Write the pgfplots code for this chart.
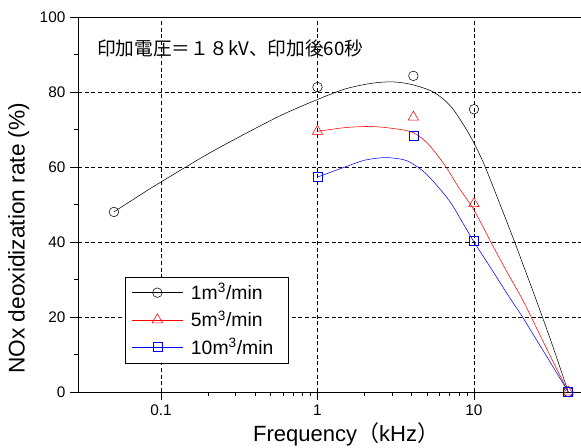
\documentclass[border=0pt]{standalone}
\usepackage{fontspec}
\setmainfont{Liberation Sans}
\newfontfamily\jp{Noto Sans CJK JP}
\usepackage{pgfplots}
\pgfplotsset{compat=1.18}
\begin{document}
\begin{tikzpicture}
\begin{axis}[
  name=a,
  scale only axis,
  width=377pt, height=281pt,
  xmode=log,
  xmin=0.0295, xmax=48.3,
  ymin=0, ymax=100,
  axis x line*=box, axis y line*=left,
  xtick={0.1,1,10}, xticklabels={0.1,1,10},
  xtick pos=left,
  ytick={0,20,40,60,80,100},
  minor ytick={10,30,50,70,90},
  tick align=outside,
  major tick length=6pt, minor tick length=3pt,
  grid=major,
  major grid style={black, dash pattern=on 3pt off 2pt, thin},
  axis line style={black, thin},
  tick style={black, thin},
  /pgf/number format/assume math mode=true,
  ticklabel style={font=\fontsize{11.5}{13}\selectfont},
  xlabel={Frequency{\jp（}kHz{\jp）}},
  ylabel={NOx deoxidization rate (\%)},
  xlabel style={font=\fontsize{16.5}{19}\selectfont, at={(axis description cs:0.533,-0.132)}, anchor=base},
  ylabel style={font=\fontsize{17}{20}\selectfont, at={(axis description cs:-0.118,0.41)}, anchor=center},
  legend style={at={(0.093,0.077)}, anchor=south west, draw=black, thin,
    font=\fontsize{14.5}{17}\selectfont, row sep=2.5pt, inner xsep=5pt, inner ysep=3pt,
    nodes={inner xsep=6pt}},
  legend cell align=left,
  legend image code/.code={
    \draw[mark repeat=2,mark phase=2,#1] plot coordinates {(0pt,0pt) (19pt,0pt) (38pt,0pt)};
  },
]
% fitted curves
\addplot[black, thin, smooth, tension=0.5, forget plot] coordinates {
 (0.05,48) (0.08,53.5) (0.12,58) (0.2,63.5) (0.35,69) (0.6,74) (1,78) (1.5,80.8)
 (2.2,82.3) (3,82.7) (4,82) (5.5,80) (7,76.5) (8.5,71.5) (10,66.4) (11.8,60)
 (15,49) (18,40.5) (21,33) (25,24.5) (32,12) (40,0)};
\addplot[red, thin, smooth, tension=0.5, forget plot] coordinates {
 (1,69.5) (1.5,70.5) (2.2,70.8) (3,70.3) (4,69.3) (5,66.5) (6.5,60.5) (8,54.5)
 (10,48.5) (13,39.5) (16,32.5) (20.5,24.5) (25,17.2) (32,8.1) (40,0)};
\addplot[blue, thin, smooth, tension=0.5, forget plot] coordinates {
 (1,57.3) (1.5,60) (2,61.8) (2.7,62.5) (3.5,62) (4,61) (5,58) (6.9,51.2)
 (8.5,45) (10,40) (12,34.9) (14.5,29.5) (17.3,24.5) (20.2,20.3) (25,14) (32,6.7) (40,0)};
% measured points
\addplot[black, only marks, mark=o, mark size=3.6pt, forget plot] coordinates {
 (0.05,48) (1,81.3) (4.1,84.3) (10,75.4) (40,0)};
\addplot[red, only marks, mark=triangle, mark size=4.5pt, forget plot] coordinates {
 (1,69.5) (4.1,73.3) (10,50.2) (40,0)};
\addplot[blue, only marks, mark=square, mark size=3.4pt, forget plot] coordinates {
 (1,57.3) (4.1,68.3) (10,40.3) (40,0)};
\addlegendimage{black, thin, mark=o, mark size=3.6pt}
\addlegendentry{1m\textsuperscript{3}/min}
\addlegendimage{red, thin, mark=triangle, mark size=4.5pt}
\addlegendentry{5m\textsuperscript{3}/min}
\addlegendimage{blue, thin, mark=square, mark size=3.4pt}
\addlegendentry{10m\textsuperscript{3}/min}
\node[anchor=west, font=\jp\fontsize{14}{16}\selectfont, inner sep=0pt] at (axis cs:0.039,91.5) {印加電圧＝１８kV、印加後60秒};
\end{axis}
\pgfresetboundingbox
\path ([xshift=-58.5pt,yshift=-42pt]a.south west) rectangle ([yshift=12.75pt]a.north east);
\end{tikzpicture}
\end{document}
